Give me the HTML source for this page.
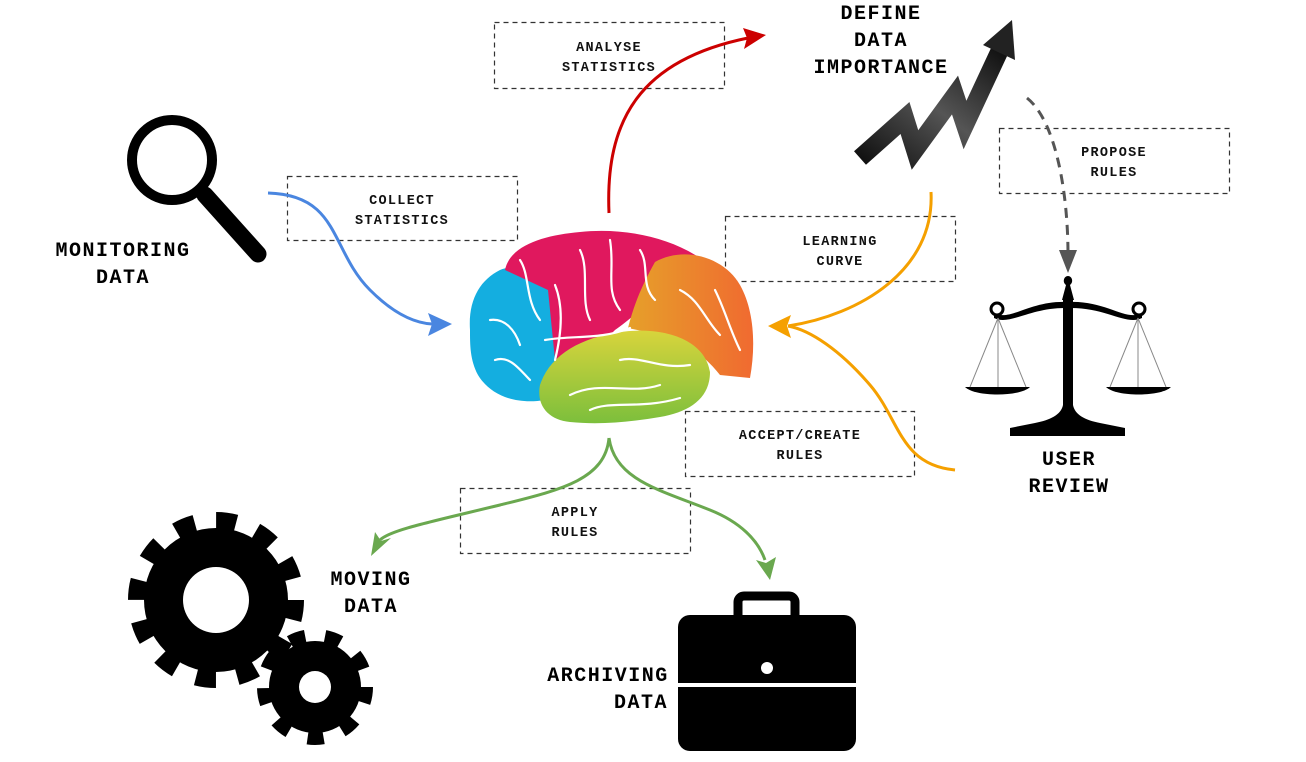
<!DOCTYPE html>
<html><head><meta charset="utf-8"><style>
html,body{margin:0;padding:0;background:#fff}
svg{display:block}
.lb{font-family:"Liberation Mono",monospace;font-weight:bold;font-size:20px;letter-spacing:1.5px;fill:#000;text-anchor:middle}
.bx{font-family:"Liberation Mono",monospace;font-weight:bold;font-size:13.5px;letter-spacing:1.3px;fill:#111;text-anchor:middle}
.box{fill:none;stroke:#333;stroke-width:1.2;stroke-dasharray:5,4}
</style></head><body>
<svg width="1306" height="762" viewBox="0 0 1306 762" xmlns="http://www.w3.org/2000/svg">
<defs>
<linearGradient id="gz" x1="0" y1="1" x2="1" y2="0"><stop offset="0" stop-color="#111"/><stop offset="0.5" stop-color="#555"/><stop offset="1" stop-color="#111"/></linearGradient>
<linearGradient id="gg" x1="0" y1="0" x2="0" y2="1"><stop offset="0" stop-color="#d8d43c"/><stop offset="1" stop-color="#7cbf3c"/></linearGradient>
<linearGradient id="go" x1="0" y1="0" x2="1" y2="0"><stop offset="0" stop-color="#e6a02a"/><stop offset="1" stop-color="#f06a30"/></linearGradient>
</defs>

<rect class="box" x="494.5" y="22.5" width="230" height="66"/>
<text class="bx" x="609" y="51">ANALYSE</text><text class="bx" x="609" y="71">STATISTICS</text>
<rect class="box" x="287.5" y="176.5" width="230" height="64"/>
<text class="bx" x="402" y="204">COLLECT</text><text class="bx" x="402" y="224">STATISTICS</text>
<rect class="box" x="999.5" y="128.5" width="230" height="65"/>
<text class="bx" x="1114" y="156">PROPOSE</text><text class="bx" x="1114" y="176">RULES</text>
<rect class="box" x="725.5" y="216.5" width="230" height="65"/>
<text class="bx" x="840" y="245">LEARNING</text><text class="bx" x="840" y="265">CURVE</text>
<rect class="box" x="685.5" y="411.5" width="229" height="65"/>
<text class="bx" x="800" y="439">ACCEPT/CREATE</text><text class="bx" x="800" y="459">RULES</text>
<rect class="box" x="460.5" y="488.5" width="230" height="65"/>
<text class="bx" x="575" y="516">APPLY</text><text class="bx" x="575" y="536">RULES</text>

<path d="M268,193 C340,195 330,250 370,290 C395,315 415,323 432,324" fill="none" stroke="#4a86e0" stroke-width="3"/>
<polygon points="452,324 428,313 432,324 428,336" fill="#4a86e0"/>
<path d="M609,213 C605,120 640,60 748,38" fill="none" stroke="#cc0000" stroke-width="3"/>
<polygon points="766,35 743,28 747,38 744,49" fill="#cc0000"/>
<path d="M931,192 C935,270 860,315 788,326" fill="none" stroke="#f5a000" stroke-width="3"/>
<path d="M955,470 C900,465 900,420 870,385 C840,350 810,330 788,326" fill="none" stroke="#f5a000" stroke-width="3"/>
<polygon points="768,326 791,315 787,326 791,338" fill="#f5a000"/>
<path d="M1027,98 C1055,120 1068,190 1068,255" fill="none" stroke="#555" stroke-width="3" stroke-dasharray="10,7"/>
<polygon points="1068,273 1059,250 1077,250" fill="#555"/>
<path d="M609,438 C605,480 560,490 500,505 C430,522 390,530 380,540" fill="none" stroke="#6aa84f" stroke-width="3"/>
<polygon points="371,556 375,532 381,541 391,538" fill="#6aa84f"/>
<path d="M609,438 C615,480 660,490 710,510 C740,522 758,540 765,560" fill="none" stroke="#6aa84f" stroke-width="3"/>
<polygon points="770,580 756,560 766,563 776,557" fill="#6aa84f"/>

<g>
<path d="M470,330 C468,300 480,280 500,270 C520,262 545,270 556,290 L560,360 L545,400 C515,405 490,395 478,375 C470,360 470,345 470,330 Z" fill="#14aee0"/>
<path d="M505,270 C510,245 545,235 580,232 C620,228 665,235 700,258 L680,280 C650,300 630,320 615,330 L600,345 C580,360 560,370 555,360 L548,290 Z" fill="#e0185e"/>
<path d="M655,262 C685,245 725,258 740,285 C754,310 756,345 750,378 L720,375 C700,350 680,340 660,335 L628,328 C635,300 645,280 655,262 Z" fill="url(#go)"/>
<path d="M540,385 C550,355 580,338 620,332 C665,326 705,340 710,372 C710,398 690,412 660,417 C630,422 600,425 570,422 C548,420 536,405 540,385 Z" fill="url(#gg)"/>
<g fill="none" stroke="#fff" stroke-width="2.2" stroke-linecap="round">
<path d="M555,285 C565,310 560,340 555,360"/>
<path d="M520,260 C530,275 525,300 540,320"/>
<path d="M490,320 C505,318 515,330 520,345"/>
<path d="M495,360 C510,355 520,370 530,380"/>
<path d="M580,250 C590,270 580,300 590,320"/>
<path d="M610,240 C615,270 605,290 620,310"/>
<path d="M640,250 C650,265 640,285 655,300"/>
<path d="M680,290 C700,300 705,320 720,335"/>
<path d="M715,290 C725,310 730,330 740,350"/>
<path d="M570,395 C600,380 630,395 660,385"/>
<path d="M590,410 C610,400 640,410 680,398"/>
<path d="M620,360 C640,355 660,370 690,365"/>
<path d="M545,340 C575,335 600,340 630,328"/>
</g>
</g>

<circle cx="172" cy="160" r="40" fill="none" stroke="#000" stroke-width="10"/>
<line x1="205" y1="195" x2="258" y2="254" stroke="#000" stroke-width="17" stroke-linecap="round"/>
<text class="lb" x="123" y="256">MONITORING</text><text class="lb" x="123" y="283">DATA</text>

<polyline points="860,158 905,118 915,150 955,95 965,125 1000,50" fill="none" stroke="url(#gz)" stroke-width="18" stroke-linejoin="miter"/>
<polygon points="1012,20 1015,60 983,45" fill="#222"/>
<text class="lb" x="881" y="19">DEFINE</text><text class="lb" x="881" y="46">DATA</text><text class="lb" x="881" y="73">IMPORTANCE</text>

<g fill="#000">
<path d="M1062,300 L1066,285 C1062,282 1064,276 1068,276 C1072,276 1074,282 1070,285 L1074,300 Z"/>
<path d="M994,313 C1010,322 1030,300 1068,302 C1106,300 1126,322 1142,313 L1142,318 C1126,326 1106,307 1068,308 C1030,307 1010,326 994,318 Z"/>
<circle cx="997" cy="309" r="6" fill="none" stroke="#000" stroke-width="3"/>
<circle cx="1139" cy="309" r="6" fill="none" stroke="#000" stroke-width="3"/>
<path d="M1063,300 L1073,300 L1073,405 C1075,415 1085,420 1100,423 L1125,428 L1125,436 L1010,436 L1010,428 L1035,423 C1050,420 1061,415 1063,405 Z"/>
<path d="M965,387 L1030,387 C1020,397 975,397 965,387 Z"/>
<path d="M1106,387 L1171,387 C1161,397 1116,397 1106,387 Z"/>
</g>
<g stroke="#888" stroke-width="1">
<line x1="998" y1="318" x2="970" y2="387"/><line x1="998" y1="318" x2="998" y2="387"/><line x1="998" y1="318" x2="1026" y2="387"/>
<line x1="1138" y1="318" x2="1110" y2="387"/><line x1="1138" y1="318" x2="1138" y2="387"/><line x1="1138" y1="318" x2="1166" y2="387"/>
</g>
<text class="lb" x="1069" y="465">USER</text><text class="lb" x="1069" y="492">REVIEW</text>

<circle cx="216" cy="600" r="72" fill="#000"/>
<circle cx="216" cy="600" r="79" fill="none" stroke="#000" stroke-width="18" stroke-dasharray="20,21.36"/>
<circle cx="216" cy="600" r="33" fill="#fff"/>
<circle cx="315" cy="687" r="46" fill="#000"/>
<circle cx="315" cy="687" r="51" fill="none" stroke="#000" stroke-width="14" stroke-dasharray="16,19.7"/>
<circle cx="315" cy="687" r="16" fill="#fff"/>
<text class="lb" x="371" y="585">MOVING</text><text class="lb" x="371" y="612">DATA</text>

<rect x="738" y="596" width="57" height="30" rx="6" fill="none" stroke="#000" stroke-width="9"/>
<rect x="678" y="615" width="178" height="136" rx="12" fill="#000"/>
<rect x="678" y="683" width="178" height="4" fill="#fff"/>
<circle cx="767" cy="668" r="6" fill="#fff"/>
<text class="lb" x="608" y="681">ARCHIVING</text><text class="lb" x="641" y="708">DATA</text>
</svg>
</body></html>
